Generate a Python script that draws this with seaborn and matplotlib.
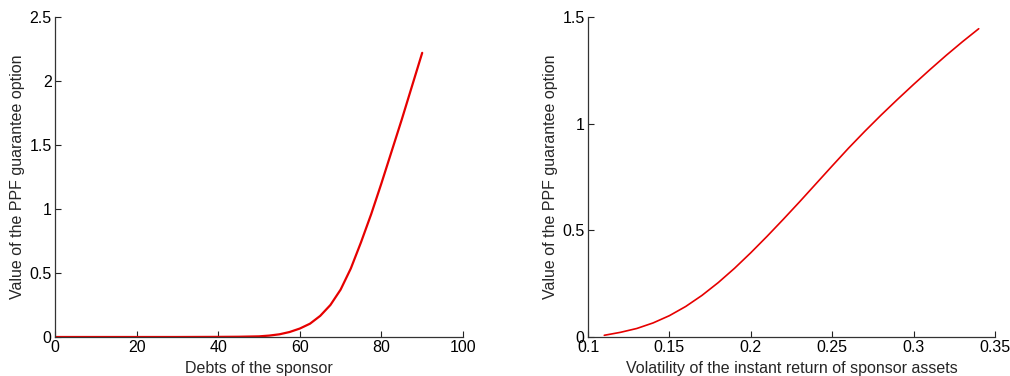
import matplotlib
matplotlib.use("Agg")
import matplotlib.pyplot as plt
import seaborn as sns
import pandas as pd

# Left panel: debts of the sponsor vs option value
debts = [0, 10, 20, 30, 40, 45, 50, 52.5, 55, 57.5, 60, 62.5, 65, 67.5, 70,
         72.5, 75, 77.5, 80, 82.5, 85, 87.5, 90]
value_debts = [0, 0, 0, 0, 0.001, 0.002, 0.005, 0.011, 0.021, 0.039, 0.066, 0.104,
               0.165, 0.25, 0.37, 0.535, 0.74, 0.96, 1.20, 1.45, 1.70, 1.96, 2.22]

# Right panel: volatility vs option value
vol = [0.11, 0.12, 0.13, 0.14, 0.15, 0.16, 0.17, 0.18, 0.19, 0.2, 0.21, 0.22,
       0.23, 0.24, 0.25, 0.26, 0.27, 0.28, 0.29, 0.3, 0.31, 0.32, 0.33, 0.34]
value_vol = [0.008, 0.022, 0.040, 0.066, 0.100, 0.143, 0.195, 0.255, 0.322, 0.395,
             0.472, 0.552, 0.634, 0.718, 0.802, 0.885, 0.964, 1.040, 1.113, 1.184,
             1.253, 1.320, 1.384, 1.445]

left_xticks = [0, 20, 40, 60, 80, 100]
left_yticks = [0, 0.5, 1, 1.5, 2, 2.5]
left_yticklabels = ["0", "0.5", "1", "1.5", "2", "2.5"]
right_xticks = [0.1, 0.15, 0.2, 0.25, 0.3, 0.35]
right_xticklabels = ["0.1", "0.15", "0.2", "0.25", "0.3", "0.35"]
right_yticks = [0, 0.5, 1, 1.5]
right_yticklabels = ["0", "0.5", "1", "1.5"]

ylabel = "Value of the PPF guarantee option"
xlabel_left = "Debts of the sponsor"
xlabel_right = "Volatility of the instant return of sponsor assets"

sns.set_style("ticks")
plt.rcParams["font.family"] = ["Liberation Sans", "DejaVu Sans"]
plt.rcParams["font.size"] = 11.5

fig = plt.figure(figsize=(10.10, 3.76), dpi=100)
ax1 = fig.add_axes([55/1010, 39/376, 408/1010, 320/376])
ax2 = fig.add_axes([588/1010, 39/376, 407/1010, 320/376])

df1 = pd.DataFrame({"x": debts, "y": value_debts})
df2 = pd.DataFrame({"x": vol, "y": value_vol})
sns.lineplot(data=df1, x="x", y="y", ax=ax1, color="#e60000", linewidth=1.6)
sns.lineplot(data=df2, x="x", y="y", ax=ax2, color="#e60000", linewidth=1.2)

for ax, xt, xtl, yt, ytl, xl in [
    (ax1, left_xticks, [str(v) for v in left_xticks], left_yticks, left_yticklabels, xlabel_left),
    (ax2, right_xticks, right_xticklabels, right_yticks, right_yticklabels, xlabel_right),
]:
    ax.set_xlim(xt[0], xt[-1])
    ax.set_ylim(yt[0], yt[-1])
    ax.set_xticks(xt)
    ax.set_xticklabels(xtl)
    ax.set_yticks(yt)
    ax.set_yticklabels(ytl)
    ax.set_xlabel(xl, fontsize=11.5, labelpad=4)
    ax.set_ylabel(ylabel, fontsize=11.5, labelpad=3)
    ax.tick_params(direction="in", length=4, width=0.8, colors="#222222",
                   labelsize=11.5, pad=2.5, labelcolor="black")
    for s in ["top", "right"]:
        ax.spines[s].set_visible(False)
    for s in ["left", "bottom"]:
        ax.spines[s].set_color("#333333")
        ax.spines[s].set_linewidth(0.9)

fig.savefig("out.png", dpi=100)
